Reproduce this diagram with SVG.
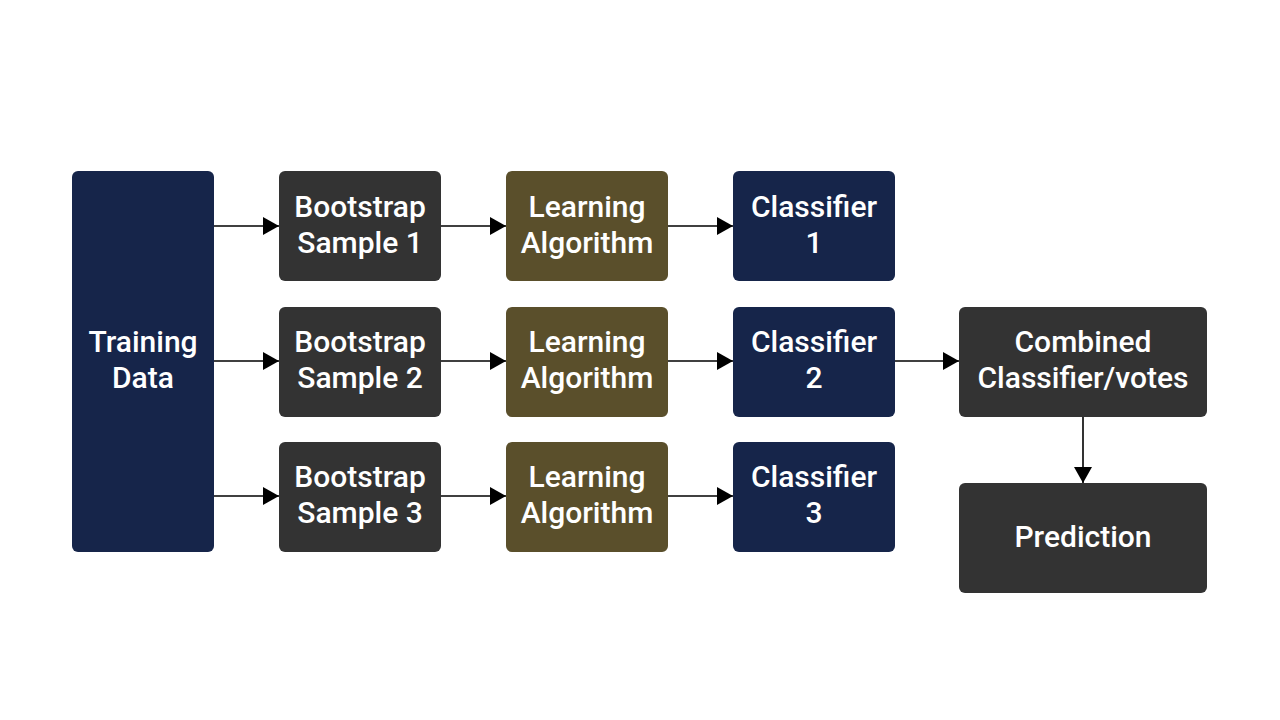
<svg xmlns="http://www.w3.org/2000/svg" width="1280" height="720" viewBox="0 0 1280 720">
<defs>
<marker id="arr" viewBox="0 0 16 18" refX="16" refY="9" markerWidth="16" markerHeight="18" markerUnits="userSpaceOnUse" orient="auto">
<path d="M0,0 L16,9 L0,18 Z" fill="#000"/>
</marker>
<style>
.navy{fill:#16254a}
.gray{fill:#333333}
.olive{fill:#5a4f2b}
text{font-family:Roboto,"Liberation Sans",sans-serif;font-size:30px;font-weight:500;fill:#fff;text-anchor:middle}
.c line{stroke:#000;stroke-width:1.6;marker-end:url(#arr)}
</style>
</defs>
<rect width="1280" height="720" fill="#fff"/>
<g class="c" id="connectors">
<line x1="214" y1="226" x2="279" y2="226"/>
<line x1="214" y1="361" x2="279" y2="361"/>
<line x1="214" y1="496" x2="279" y2="496"/>
<line x1="441" y1="226" x2="506" y2="226"/>
<line x1="441" y1="361" x2="506" y2="361"/>
<line x1="441" y1="496" x2="506" y2="496"/>
<line x1="668" y1="226" x2="733" y2="226"/>
<line x1="668" y1="361" x2="733" y2="361"/>
<line x1="668" y1="496" x2="733" y2="496"/>
<line x1="895" y1="361" x2="959" y2="361"/>
<line x1="1083" y1="416" x2="1083" y2="483"/>
</g>
<g id="training"><rect class="navy" x="72" y="171" width="142" height="381" rx="6"/><text x="143" y="352">Training</text><text x="143" y="388">Data</text></g>
<g id="bs1"><rect class="gray" x="279" y="171" width="162" height="110" rx="6"/><text x="360" y="217">Bootstrap</text><text x="360" y="253">Sample 1</text></g>
<g id="bs2"><rect class="gray" x="279" y="307" width="162" height="110" rx="6"/><text x="360" y="352">Bootstrap</text><text x="360" y="388">Sample 2</text></g>
<g id="bs3"><rect class="gray" x="279" y="442" width="162" height="110" rx="6"/><text x="360" y="487">Bootstrap</text><text x="360" y="523">Sample 3</text></g>
<g id="la1"><rect class="olive" x="506" y="171" width="162" height="110" rx="6"/><text x="587" y="217">Learning</text><text x="587" y="253">Algorithm</text></g>
<g id="la2"><rect class="olive" x="506" y="307" width="162" height="110" rx="6"/><text x="587" y="352">Learning</text><text x="587" y="388">Algorithm</text></g>
<g id="la3"><rect class="olive" x="506" y="442" width="162" height="110" rx="6"/><text x="587" y="487">Learning</text><text x="587" y="523">Algorithm</text></g>
<g id="c1"><rect class="navy" x="733" y="171" width="162" height="110" rx="6"/><text x="814" y="217">Classifier</text><text x="814" y="253">1</text></g>
<g id="c2"><rect class="navy" x="733" y="307" width="162" height="110" rx="6"/><text x="814" y="352">Classifier</text><text x="814" y="388">2</text></g>
<g id="c3"><rect class="navy" x="733" y="442" width="162" height="110" rx="6"/><text x="814" y="487">Classifier</text><text x="814" y="523">3</text></g>
<g id="combined"><rect class="gray" x="959" y="307" width="248" height="110" rx="6"/><text x="1083" y="352">Combined</text><text x="1083" y="388">Classifier/votes</text></g>
<g id="prediction"><rect class="gray" x="959" y="483" width="248" height="110" rx="6"/><text x="1083" y="547">Prediction</text></g>
</svg>
